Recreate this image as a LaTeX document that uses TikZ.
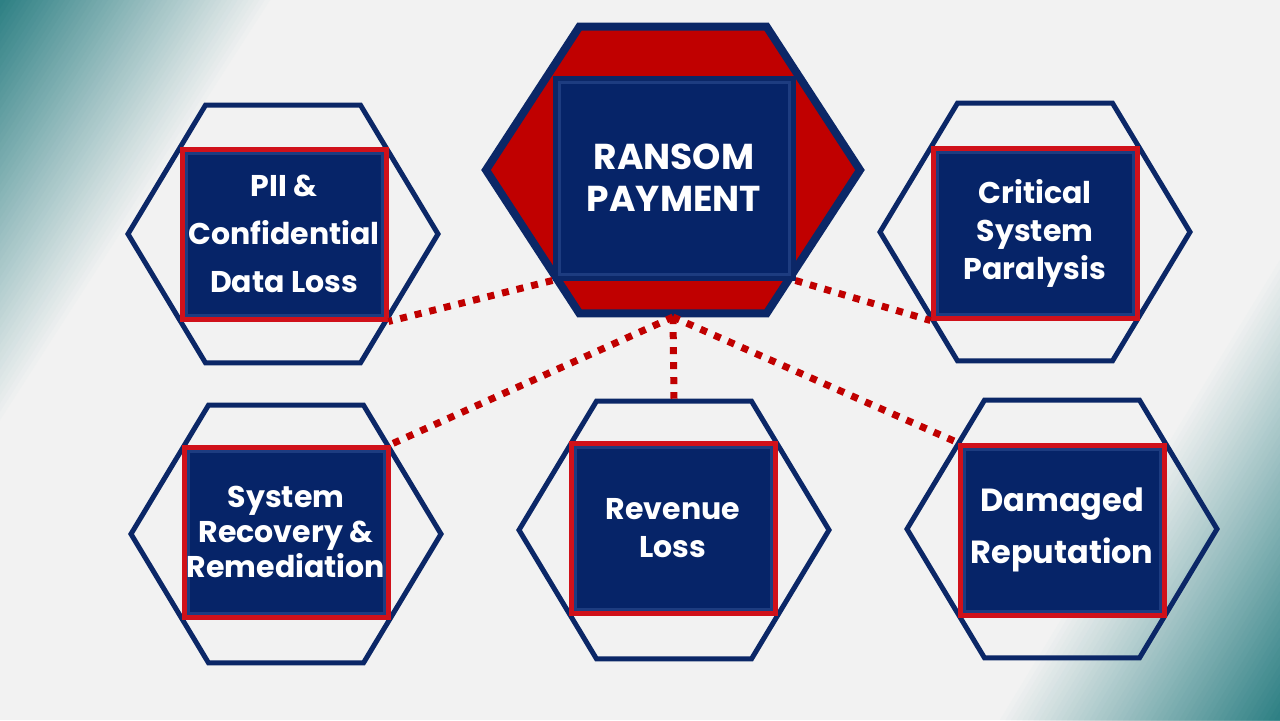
\documentclass[tikz,border=0pt]{standalone}
\usepackage{fontspec}
\setmainfont{Poppins}
\usetikzlibrary{shapes.geometric}
\definecolor{bggray}{HTML}{F2F2F2}
\definecolor{tealc}{HTML}{2E8084}
\definecolor{navyc}{HTML}{0B2767}
\definecolor{boxnavy}{HTML}{062468}
\definecolor{navylite}{HTML}{1D3C80}
\definecolor{hexred}{HTML}{C00000}
\definecolor{boxred}{HTML}{D0111A}
\begin{document}
\begin{tikzpicture}[x=0.5pt, y=-0.5pt,
    hexa/.style={regular polygon, regular polygon sides=6, draw=navyc, line width=2.5pt,
      minimum size=155pt, inner sep=0pt, transform shape},
    side/.style={hexa, yscale=0.96},
    card/.style={rectangle, draw=boxred, line width=2.5pt, fill=boxnavy, text=white,
      align=center, font=\bfseries\fontsize{15}{19}\selectfont, inner sep=0pt,
      minimum width=102pt, minimum height=85pt,
      path picture={\draw[navylite, line width=1.5pt]
        ([shift={(2pt,-2pt)}]path picture bounding box.north west) rectangle
        ([shift={(-2pt,2pt)}]path picture bounding box.south east);}},
    link/.style={hexred, line width=3.5pt, dash pattern=on 3.5pt off 4pt}]
  \useasboundingbox (0,0) rectangle (1280,720);
  % background with teal corners
  \fill[bggray] (0,0) rectangle (1280,720);
  \foreach \i in {0,...,49}{
    \pgfmathsetmacro\t{1-\i/50}
    \pgfmathtruncatemacro\p{\i*2+2}
    \fill[tealc!\p!bggray] (0,0) -- (0,420*\t) -- (270*\t,0) -- cycle;
    \fill[tealc!\p!bggray] (1280,720) -- (1280,720-460*\t) -- (1280-280*\t,720) -- cycle;
  }
  % hexagons
  \node[hexa, fill=hexred, line width=4pt, minimum size=187pt, yscale=0.886] (rshex) at (673,170) {};
  \node[side] (piihex) at (283,234) {};
  \node[side] (crithex) at (1035,232) {};
  \node[side] (syshex) at (286,534) {};
  \node[side] (rvhex) at (674,530) {};
  \node[side] (dmghex) at (1062,529) {};
  % boxes
  \node[card, draw=navyc, minimum width=119pt, minimum height=100pt,
    font=\bfseries\fontsize{18}{21}\selectfont] (ransom) at (674,178) {RANSOM\\PAYMENT};
  \node[card, font=\bfseries\fontsize{15}{24}\selectfont] (pii) at (284,234) {PII \&\\Confidential\\Data Loss};
  \node[card] (crit) at (1035,233) {Critical\\System\\Paralysis};
  \node[card, font=\bfseries\fontsize{15}{17.5}\selectfont] (sys) at (286,532) {System\\Recovery \&\\Remediation};
  \node[card] (rev) at (673,528) {Revenue\\Loss};
  \node[card, font=\bfseries\fontsize{16}{26}\selectfont] (dmg) at (1062,530) {Damaged\\Reputation};
  % dotted links
  \draw[link] (ransom.south west) -- (pii.south east);
  \draw[link] (ransom.south east) -- (crit.south west);
  \draw[link] (rshex.south) -- (rvhex.north);
  \draw[link] (rshex.south) -- (sys.north east);
  \draw[link] (rshex.south) -- (dmg.north west);
\end{tikzpicture}
\end{document}
